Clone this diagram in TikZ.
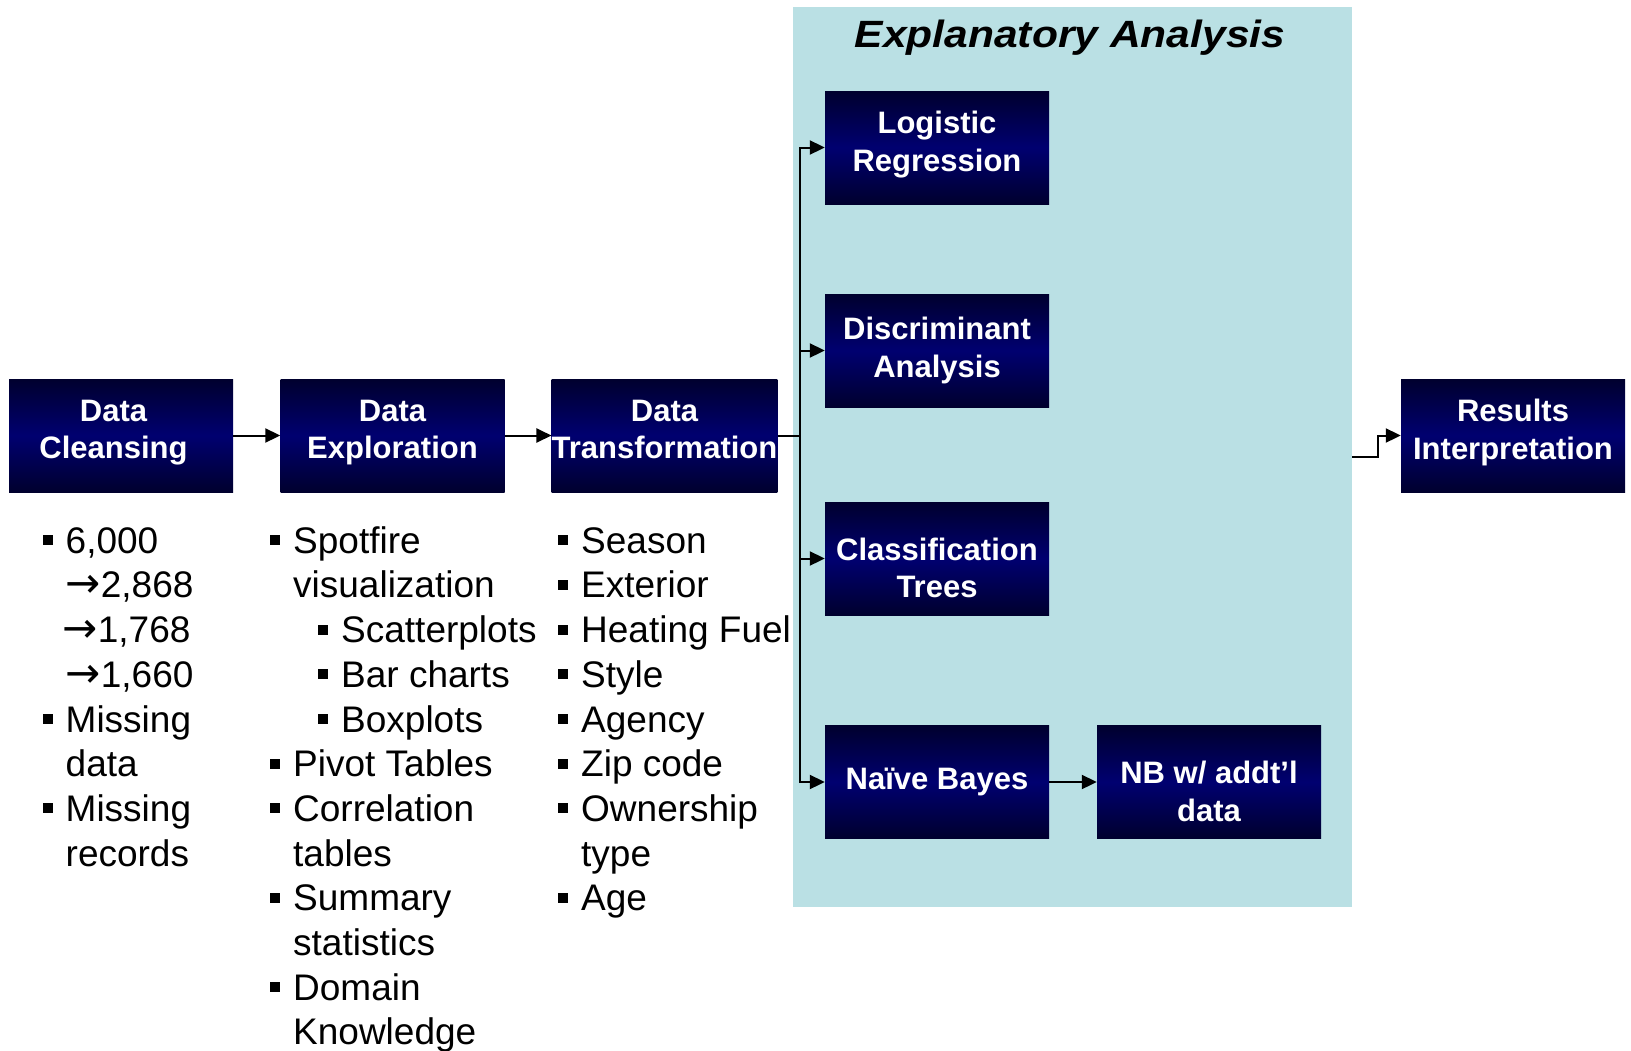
\documentclass[tikz,border=0pt]{standalone}
\usepackage{fontspec}
\setmainfont{Liberation Sans}
\newfontfamily\titlefont[FakeStretch=1.12]{Liberation Sans}
\newfontfamily\symfont{DejaVu Sans}
\usetikzlibrary{arrows.meta}

\definecolor{navydark}{RGB}{0,0,46}
\definecolor{navymid}{RGB}{0,0,112}
\definecolor{panelblue}{RGB}{186,224,228}
\newcommand{\blt}{\llap{\raisebox{8pt}{\rule{10pt}{10pt}}\hspace{13pt}}}
\newcommand{\liftby}{\rule[-12.6pt]{0pt}{0pt}}
\newcommand{\dropby}{\rule{0pt}{41.4pt}}
\newcommand{\padright}{\hspace*{15pt}}
\newcommand{\arr}{{\symfont\fontsize{42}{44.7}\selectfont →}}

\begin{document}
\begin{tikzpicture}[x=1pt, y=-1pt,
  stage/.style={rectangle, top color=navydark, bottom color=navydark, middle color=navymid, text=white, align=center, font=\fontsize{31}{37.5}\selectfont\bfseries, minimum width=224pt, minimum height=113pt, inner sep=0pt},
  arrow/.style={-{Triangle[length=15pt, width=14pt]}, line width=2pt},
  items/.style={anchor=north west, align=left, inner sep=0pt, font=\fontsize{37}{44.7}\selectfont},
]
\useasboundingbox (0,0) rectangle (1631,1050);

% === EXPLANATORY ANALYSIS PANEL ===
\node[fill=panelblue, minimum width=559pt, minimum height=900pt, inner sep=0pt] (panel) at (1072.5, 457) {};
\node[anchor=base, font=\titlefont\fontsize{38}{46}\selectfont\bfseries\itshape] (title) at (1070, 47.7) {Explanatory Analysis};

% === PIPELINE STAGES ===
\node[stage] (clean) at (121, 435.5) {Data\padright\\Cleansing\padright\liftby};
\node[stage] (explore) at (392.5, 435.5) {Data\\Exploration\liftby};
\node[stage] (transform) at (664.5, 435.5) {Data\\Transformation\liftby};
\node[stage] (results) at (1513, 435.5) {Results\\Interpretation\liftby};

% === MODELS ===
\node[stage] (logit) at (937, 147.5) {Logistic\\Regression\liftby};
\node[stage] (discrim) at (937, 350.5) {Discriminant\\Analysis};
\node[stage] (classif) at (937, 558.5) {\dropby Classification\\Trees};
\node[stage] (nbayes) at (937, 782) {Naïve Bayes};
\node[stage] (nbextra) at (1209, 782) {\dropby NB w/ addt’l\\data};

% === BULLET LISTS ===
\node[items] (cleanlist) at (65.5, 521.7) {\strut\blt 6,000\\
  \arr2,868\\
  \hspace*{-3pt}\arr1,768\\
  \arr1,660\\
  \blt Missing\\
  data\\
  \blt Missing\\
  records};
\node[items] (explorelist) at (293, 521.7) {\strut\blt Spotfire\\
  visualization\\
  \hspace*{48pt}\blt Scatterplots\\
  \hspace*{48pt}\blt Bar charts\\
  \hspace*{48pt}\blt Boxplots\\
  \blt Pivot Tables\\
  \blt Correlation\\
  tables\\
  \blt Summary\\
  statistics\\
  \blt Domain\\
  Knowledge};
\node[items] (transformlist) at (581, 521.7) {\strut\blt Season\\
  \blt Exterior\\
  \blt Heating Fuel\\
  \blt Style\\
  \blt Agency\\
  \blt Zip code\\
  \blt Ownership\\
  type\\
  \blt Age};

% === CONNECTORS ===
\draw[arrow] (clean) -- (explore);
\draw[arrow] (explore) -- (transform);
\coordinate (split) at (800, 435.5);
\draw[line width=2pt] (transform.east) -- (split);
\foreach \m in {logit, discrim, classif, nbayes}
  \draw[arrow] (split) |- (\m.west);
\draw[arrow] (nbayes) -- (nbextra);
\draw[arrow] (panel.east) -- ++(26,0) |- (results.west);
\end{tikzpicture}
\end{document}
